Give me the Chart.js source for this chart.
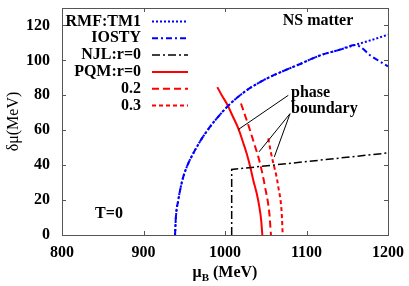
<!DOCTYPE html>
<html>
<head>
<meta charset="utf-8">
<script src="https://cdn.jsdelivr.net/npm/chart.js@4.4.1/dist/chart.umd.min.js"></script>
<style>
  html, body { margin: 0; padding: 0; background: #fff; }
  #wrap { width: 409px; height: 286px; }
</style>
</head>
<body>
<div id="wrap"><canvas id="phase-chart"></canvas></div>
<script>
// values (mu_B in MeV, delta mu in MeV)
const tm1Mu  = [938.7, 939.7, 942.7, 945.5, 948.8, 954, 961, 968, 975.5, 988, 1006, 1027, 1047, 1067, 1090, 1117, 1140, 1158, 1180, 1200];
const tm1Dmu = [0, 10, 20, 27, 33.3, 40, 46.7, 52.5, 58, 65.7, 75, 83, 88.6, 93, 97.5, 102.9, 106, 108.6, 111.7, 114.7];

const iostyMu  = [938.7, 939.7, 942.7, 945.5, 948.8, 954, 961, 968, 975.5, 988, 1006, 1027, 1047, 1067, 1090, 1117, 1140, 1160, 1180, 1200];
const iostyDmu = [0, 10, 20, 27, 33.3, 40, 46.7, 52.5, 58, 65.7, 75, 83, 88.6, 93, 97.5, 102.9, 106, 108.8, 102.3, 96.6];

const njlMu  = [1008.2, 1008.2, 1200];
const njlDmu = [0, 37.5, 47];

// PQM curves, listed from top to bottom
const pqm0Mu  = [990.6, 996, 1002.1, 1009.5, 1016.3, 1021.5, 1026.6, 1031, 1034.7, 1038.8, 1042.1, 1044.5, 1045.8];
const pqm0Dmu = [84.7, 80, 75.3, 68, 61, 54, 46.7, 39, 31.4, 24, 16.2, 8, 0];

const pqm2Mu  = [1019.6, 1025, 1030.7, 1036, 1040.9, 1045.5, 1049.1, 1054.4, 1056.4];
const pqm2Dmu = [75.3, 68, 60, 52, 44.7, 36, 27.6, 12.4, 0];

const pqm3Mu  = [1053.1, 1056, 1059.3, 1062.5, 1065.4, 1069.6, 1070.8];
const pqm3Dmu = [55.3, 48, 41, 35, 27.6, 12.4, 0];

const xTicks = [800, 900, 1000, 1100, 1200];
const yTicks = [0, 20, 40, 60, 80, 100, 120];

const zip = (xs, ys) => xs.map((x, i) => ({ x: x, y: ys[i] }));

const SERIF = '"Liberation Serif", "DejaVu Serif", serif';

const datasets = [
    { label: 'RMF:TM1', data: zip(tm1Mu, tm1Dmu), borderColor: '#0000ff', borderWidth: 2, borderDash: [2, 2], cubicInterpolationMode: 'monotone' },
    { label: 'IOSTY', data: zip(iostyMu, iostyDmu), borderColor: '#0000ff', borderWidth: 2, borderDash: [6, 3, 2, 3], cubicInterpolationMode: 'monotone' },
    { label: 'NJL:r=0', data: zip(njlMu, njlDmu), borderColor: '#000000', borderWidth: 1.5, borderDash: [8, 3, 2, 3], tension: 0 },
    { label: 'PQM:r=0', data: zip(pqm0Mu, pqm0Dmu), borderColor: '#ff0000', borderWidth: 2, borderDash: [], cubicInterpolationMode: 'monotone' },
    { label: '0.2', data: zip(pqm2Mu, pqm2Dmu), borderColor: '#ff0000', borderWidth: 2, borderDash: [7, 4], cubicInterpolationMode: 'monotone' },
    { label: '0.3', data: zip(pqm3Mu, pqm3Dmu), borderColor: '#ff0000', borderWidth: 2, borderDash: [4, 3], cubicInterpolationMode: 'monotone' },
];
datasets.forEach(d => { d.showLine = true; d.pointRadius = 0; d.fill = false; });

// frame, inner ticks, legend and text labels
const decorations = {
    id: 'decorations',
    afterDatasetsDraw(chart) {
        const c = chart.ctx;
        const a = chart.chartArea;
        const xs = chart.scales.x;
        const ys = chart.scales.y;
        c.save();

        // box and inward ticks
        c.strokeStyle = '#555';
        c.lineWidth = 1;
        c.setLineDash([]);
        c.beginPath();
        xTicks.forEach(v => {
            const px = Math.round(xs.getPixelForValue(v)) + 0.5;
            c.moveTo(px, a.bottom); c.lineTo(px, a.bottom - 4);
            c.moveTo(px, a.top); c.lineTo(px, a.top + 4);
        });
        yTicks.forEach(v => {
            const py = Math.round(ys.getPixelForValue(v)) + 0.5;
            c.moveTo(a.left, py); c.lineTo(a.left + 4, py);
            c.moveTo(a.right, py); c.lineTo(a.right - 4, py);
        });
        c.stroke();
        c.strokeRect(Math.round(a.left) + 0.5, Math.round(a.top) + 0.5, Math.round(a.right - a.left), Math.round(a.bottom - a.top));

        // legend
        c.font = 'bold 16px ' + SERIF;
        c.fillStyle = '#000';
        c.textAlign = 'right';
        c.textBaseline = 'middle';
        chart.data.datasets.forEach((d, i) => {
            const y = 21.5 + i * 16.8;
            c.fillText(d.label, 141, y);
            c.strokeStyle = d.borderColor;
            c.lineWidth = d.borderWidth;
            c.setLineDash(d.borderDash);
            c.beginPath();
            c.moveTo(152, y);
            c.lineTo(188, y);
            c.stroke();
        });
        c.setLineDash([]);

        // labels inside the plot
        c.textAlign = 'center';
        c.fillText('NS matter', 318, 21);
        c.fillText('T=0', 109, 214);
        c.textAlign = 'left';
        c.fillText('phase', xs.getPixelForValue(1081), ys.getPixelForValue(81.5));
        c.fillText('boundary', xs.getPixelForValue(1081), ys.getPixelForValue(72.5));

        // pointer lines
        c.strokeStyle = '#000';
        c.lineWidth = 1;
        const seg = (x1, y1, x2, y2) => {
            c.moveTo(xs.getPixelForValue(x1), ys.getPixelForValue(y1));
            c.lineTo(xs.getPixelForValue(x2), ys.getPixelForValue(y2));
        };
        c.beginPath();
        seg(1077.7, 80, 1016.3, 60.4);
        seg(1079.8, 69.5, 1041.7, 47.6);
        seg(1079.8, 69.5, 1060.5, 44.7);
        c.stroke();

        // x axis title with subscript
        const cx = (a.left + a.right) / 2;
        const base = 281;
        c.textAlign = 'left';
        c.textBaseline = 'alphabetic';
        const big = 'bold 16px ' + SERIF;
        const small = 'bold 11px ' + SERIF;
        c.font = big;
        const w1 = c.measureText('\u03bc').width;
        const w3 = c.measureText(' (MeV)').width;
        c.font = small;
        const w2 = c.measureText('B').width;
        let x0 = cx - (w1 + w2 + w3) / 2;
        c.font = big;
        c.fillText('\u03bc', x0, base - 4);
        c.font = small;
        c.fillText('B', x0 + w1, base);
        c.font = big;
        c.fillText(' (MeV)', x0 + w1 + w2, base - 4);

        c.restore();
    }
};

new Chart(document.getElementById('phase-chart').getContext('2d'), {
    type: 'scatter',
    data: { datasets: datasets },
    options: {
        responsive: true,
        maintainAspectRatio: false,
        animation: false,
        layout: { padding: { top: 8, right: 21, left: 0, bottom: 0 } },
        plugins: { legend: { display: false }, tooltip: { enabled: false } },
        scales: {
            x: {
                type: 'linear',
                min: 800,
                max: 1200,
                afterBuildTicks: s => { s.ticks = xTicks.map(v => ({ value: v })); },
                ticks: { color: '#000', padding: 8, maxRotation: 0, callback: v => String(v), font: { family: SERIF, size: 16, weight: 'bold' } },
                grid: { display: false, drawTicks: false },
                border: { display: false },
                afterFit: s => { s.height = 51; s.paddingLeft = 0; s.paddingRight = 0; },
            },
            y: {
                type: 'linear',
                min: 0,
                max: 130,
                afterBuildTicks: s => { s.ticks = yTicks.map(v => ({ value: v })); },
                ticks: { color: '#000', padding: 12, callback: v => String(v), font: { family: SERIF, size: 16, weight: 'bold' } },
                grid: { display: false, drawTicks: false },
                border: { display: false },
                title: { display: true, text: '\u03b4\u03bc(MeV)', color: '#000', font: { family: SERIF, size: 16 } },
                afterFit: s => { s.width = 62; s.paddingTop = 0; s.paddingBottom = 0; },
            },
        },
    },
    plugins: [decorations],
});
</script>
</body>
</html>
